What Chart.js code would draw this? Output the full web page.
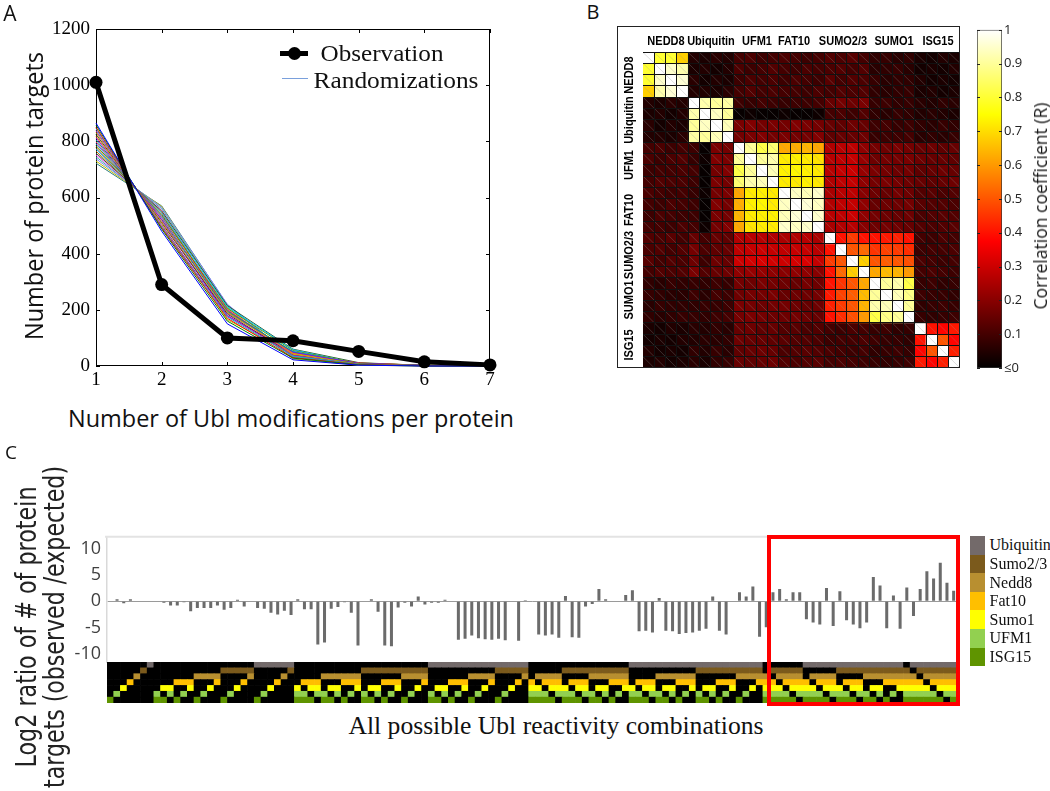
<!DOCTYPE html>
<html>
<head>
<meta charset="utf-8">
<script src="https://cdn.jsdelivr.net/npm/chart.js@4.4.1/dist/chart.umd.min.js"></script>
<style>
  html, body { margin: 0; padding: 0; background: #fff; }
  body { position: relative; width: 1050px; height: 791px; overflow: hidden; }
  canvas { position: absolute; }
  .txt { position: absolute; white-space: nowrap; line-height: 1; color: #111; }
  .abs { position: absolute; box-sizing: border-box; }
</style>
</head>
<body>
<canvas id="chartA" width="520" height="400" style="left:0px;top:0px"></canvas>
<canvas id="heat" width="317" height="316" style="left:643px;top:52px"></canvas>
<div class="abs" style="left:617px;top:26px;width:343px;height:342px;border:1px solid #222"></div>
<canvas id="cbar" width="90" height="360" style="left:960px;top:20px"></canvas>
<canvas id="chartC" width="970" height="183" style="left:0px;top:520px"></canvas>
<canvas id="strip" width="850" height="41" style="left:107px;top:662px"></canvas>
<div id="redBox" class="abs" style="border:4px solid #f00"></div>

<script>
// --- Panel A : distribution des modifications ---
const modCounts = ['1', '2', '3', '4', '5', '6', '7'];
const observed = [1010, 290, 100, 90, 52, 15, 4];
const randomRuns = [
  [865, 480, 150, 22, 3, 0, 0],
  [858, 488, 160, 28, 4, 0, 0],
  [850, 492, 170, 30, 5, 1, 0],
  [845, 495, 175, 35, 6, 1, 0],
  [838, 500, 180, 38, 5, 1, 0],
  [832, 505, 165, 42, 7, 1, 0],
  [825, 510, 185, 40, 8, 2, 0],
  [818, 515, 190, 45, 6, 1, 0],
  [812, 520, 178, 48, 9, 2, 0],
  [805, 522, 195, 50, 8, 2, 1],
  [798, 528, 200, 44, 10, 2, 0],
  [792, 532, 188, 52, 7, 1, 0],
  [785, 536, 205, 55, 9, 3, 0],
  [778, 540, 198, 46, 11, 2, 1],
  [772, 545, 210, 58, 8, 2, 0],
  [765, 548, 192, 50, 10, 3, 1],
  [758, 552, 215, 60, 12, 2, 0],
  [752, 555, 202, 40, 6, 1, 0],
  [745, 560, 212, 35, 5, 1, 0],
  [738, 565, 220, 30, 4, 1, 0],
  [730, 568, 208, 25, 3, 0, 0],
  [722, 570, 218, 32, 5, 1, 0]
];
const runColors = ['#0000ff', '#008000', '#ff0000', '#00bfbf', '#bf00bf', '#bfbf00', '#404040',
  '#ff8000', '#8000ff', '#00a080', '#e03070', '#2080ff', '#60a000', '#a05020', '#00c0ff',
  '#c06000', '#306030', '#ff40ff', '#40c0a0', '#8080ff', '#c0c000', '#2f7f7f'];

// --- Panel B : matrice de corrélation (x100) ---
const heatLabels = ['NEDD8', 'Ubiquitin', 'UFM1', 'FAT10', 'SUMO2/3', 'SUMO1', 'ISG15'];
const corr = [
  [100,80,80,68, 5,4,6,5, 10,11,9,10, 11,10,9,10, 12,11,13,10, 7,8,6,7, 4,3,5,4],
  [80,100,95,92, 4,5,3,5, 11,9,10,12, 10,9,11,10, 11,12,10,12, 6,7,8,6, 3,4,3,5],
  [80,95,100,96, 6,3,5,4, 9,11,10,11, 9,11,10,9, 13,10,12,11, 8,6,7,7, 5,3,4,3],
  [68,92,96,100, 5,5,4,6, 10,12,10,11, 10,10,9,11, 10,12,11,12, 7,6,7,8, 4,5,3,4],
  [5,4,6,5, 100,92,90,91, 9,8,10,9, 8,9,9,10, 15,17,16,18, 8,9,7,8, 6,5,7,6],
  [4,5,3,5, 92,100,94,90, 1,2,1,1, 2,1,1,2, 10,11,9,12, 7,6,8,7, 5,6,5,4],
  [6,3,5,4, 90,94,100,93, 18,19,17,18, 17,19,18,17, 15,14,16,15, 9,10,8,9, 7,6,8,7],
  [5,5,4,6, 91,90,93,100, 17,18,19,17, 18,17,17,19, 14,15,15,16, 8,9,9,10, 6,7,6,8],
  [10,11,9,10, 9,1,18,17, 100,90,82,86, 62,63,64,62, 26,27,28,21, 17,16,18,17, 15,16,14,15],
  [11,9,11,12, 8,2,19,18, 90,100,90,92, 72,73,72,71, 27,28,29,22, 16,17,17,18, 16,15,15,14],
  [9,10,10,11, 10,1,17,19, 82,90,100,93, 73,74,73,72, 27,29,30,22, 18,17,16,17, 14,15,16,15],
  [10,12,11,11, 9,1,18,17, 86,92,93,100, 72,72,73,72, 26,28,29,21, 17,18,17,16, 15,14,15,16],
  [11,10,9,10, 8,2,17,18, 62,72,73,72, 100,94,93,95, 25,27,28,20, 16,15,17,16, 12,13,11,12],
  [10,9,11,10, 9,1,19,17, 63,73,74,72, 94,100,96,94, 26,28,29,21, 15,16,16,17, 13,12,12,11],
  [9,11,10,9, 9,1,18,17, 64,72,73,73, 93,96,100,95, 27,28,30,21, 17,16,15,16, 11,12,13,12],
  [10,10,9,11, 10,2,17,19, 62,71,72,72, 95,94,95,100, 25,26,27,20, 16,17,16,15, 12,11,12,13],
  [12,11,13,10, 15,10,15,14, 26,27,27,26, 25,26,27,25, 100,40,46,40, 40,41,42,40, 10,9,11,10],
  [11,12,10,12, 17,11,14,15, 28,29,30,29, 28,29,29,27, 40,100,50,53, 45,47,46,44, 9,10,10,11],
  [13,10,12,11, 16,9,16,15, 30,31,32,31, 30,31,32,29, 46,50,100,68, 50,51,50,49, 11,10,9,10],
  [10,12,11,12, 18,12,15,16, 21,22,22,21, 20,21,21,20, 40,53,68,100, 62,65,64,60, 10,11,10,9],
  [7,6,8,7, 8,7,9,8, 17,16,18,17, 16,15,17,16, 40,45,50,62, 100,90,92,82, 8,9,7,8],
  [8,7,6,6, 9,6,10,9, 16,17,17,18, 15,16,16,17, 41,47,51,65, 90,100,93,88, 9,8,8,7],
  [6,8,7,7, 7,8,8,9, 18,17,16,17, 17,16,15,16, 42,46,50,64, 92,93,100,90, 7,8,9,8],
  [7,6,7,8, 8,7,9,10, 17,18,17,16, 16,17,16,15, 40,44,49,60, 82,88,90,100, 8,7,8,9],
  [4,3,5,4, 6,5,7,6, 15,16,14,15, 12,13,11,12, 10,9,11,10, 8,9,7,8, 100,40,38,41],
  [3,4,3,5, 5,6,6,7, 16,15,15,14, 13,12,12,11, 9,10,10,11, 9,8,8,7, 40,100,50,38],
  [5,3,4,3, 7,5,8,6, 14,15,16,15, 11,12,13,12, 11,10,9,10, 7,8,9,8, 38,50,100,42],
  [4,5,3,4, 6,4,7,8, 15,14,15,16, 12,11,12,13, 10,11,10,9, 8,7,8,9, 41,38,42,100]
];
// décalage horizontal des libellés du haut (px)
const heatLabelShift = [0, 0, 1, -7, -3, 3, 2];

// --- Panel C : combinaisons de Ubl ---
// ublNames de haut en bas ; dans combos, 1 = ISG15 ... 7 = Ubiquitin
const ublNames = ['Ubiquitin', 'Sumo2/3', 'Nedd8', 'Fat10', 'Sumo1', 'UFM1', 'ISG15'];
const ublColors = ['#736a6a', '#7b5a1c', '#b88f30', '#ffbf00', '#ffff00', '#92d050', '#5f9400'];
const combos = [
  '1', '2', '3', '4', '5', '6', '7',
  '12', '13', '23', '14', '24', '34', '15', '25', '35', '45', '16', '26', '36', '46', '56',
  '17', '27', '37', '47', '57', '67',
  '123', '124', '134', '234', '125', '135', '235', '145', '245', '345',
  '126', '136', '236', '146', '246', '346', '156', '256', '356', '456',
  '127', '137', '237', '147', '247', '347', '157', '257', '357', '457', '167', '267', '367', '467', '567',
  '1234', '1235', '1245', '1345', '2345',
  '1236', '1246', '1346', '2346', '1256', '1356', '2356', '1456', '2456', '3456',
  '1237', '1247', '1347', '2347', '1257', '1357', '2357', '1457', '2457', '3457',
  '1267', '1367', '2367', '1467', '2467', '3467', '1567', '2567', '3567', '4567',
  '12345', '12346', '12356', '12456', '13456', '23456',
  '12347', '12357', '12457', '13457', '23457', '12367', '12467', '13467', '23467',
  '12567', '13567', '23567', '14567', '24567', '34567',
  '123456', '123457', '123467', '123567', '124567', '134567', '234567',
  '1234567'
];
const log2Ratio = [
  -0.1, 0.4, -0.4, 0.4, -0.1, -0.1, -0.1, -0.1, -0.3, -0.8,
  -0.8, -0.2, -1.9, -1.3, -1.3, -1.3, -0.8, -1.6, -1.3, 0.3,
  -1.0, -0.1, -1.3, -1.4, -2.2, -2.5, -1.8, -2.6, 0.4, -1.5,
  -1.5, -8.2, -7.8, -1.4, -1.1, -0.2, -2.2, -8.4, -0.1, 0.4,
  -2.0, -8.4, -8.5, -1.2, -0.3, -1.0, 0.9, -0.6, -0.3, -0.3,
  0.3, -0.1, -7.3, -7.1, -6.5, -7.0, -7.2, -7.3, -7.1, -7.4,
  -0.1, -7.5, 0.2, -0.1, -6.3, -6.5, -6.3, -6.9, 1.0, -6.8,
  -6.9, -1.0, -0.5, 2.3, 0.4, 0.1, 0.1, 1.2, 2.1, -5.7,
  -5.6, -5.9, 0.6, -5.6, -5.7, -6.2, -6.0, -5.9, -5.6, -5.2,
  0.9, -5.6, -6.3, 0.1, 1.7, 0.9, 2.8, -6.7, -4.9, 1.7,
  2.3, 0.4, 1.7, 1.7, -3.4, -4.0, -4.4, 2.5, -4.7, 1.9,
  -3.6, -4.4, -5.1, -4.0, 4.6, 3.0, -5.1, 1.1, -5.2, 2.6,
  -2.8, 2.3, 5.7, 4.3, 7.3, 3.5, 2.0
];
const cTicks = [-10, -5, 0, 5, 10];

Chart.defaults.font.family = '"Open Sans", sans-serif';
Chart.defaults.animation = false;
Chart.defaults.plugins.legend.display = false;
Chart.defaults.plugins.tooltip.enabled = false;

// --- Texte HTML ---
const mctx = document.createElement('canvas').getContext('2d');
function addText(txt, cx, cy, font, fitW, rot, color) {
  const el = document.createElement('div');
  el.className = 'txt';
  el.textContent = txt;
  el.style.font = font;
  if (color) el.style.color = color;
  mctx.font = font;
  const sx = fitW ? fitW / mctx.measureText(txt).width : 1;
  el.style.left = cx + 'px';
  el.style.top = cy + 'px';
  el.style.transform = `translate(-50%,-50%) rotate(${rot || 0}deg) scaleX(${sx})`;
  document.body.appendChild(el);
  return el;
}
function addBox(left, top, w, h, css) {
  const el = document.createElement('div');
  el.className = 'abs';
  Object.assign(el.style, { left: left + 'px', top: top + 'px', width: w + 'px', height: h + 'px' }, css);
  document.body.appendChild(el);
}

// --- Panel A ---
const matlabBox = {
  id: 'matlabBox',
  beforeDatasetsDraw(chart) {
    const { ctx, chartArea: a, scales: { x, y } } = chart;
    const t = 4;
    ctx.save();
    ctx.strokeStyle = '#000';
    ctx.lineWidth = 1;
    ctx.strokeRect(a.left + 0.5, a.top + 0.5, a.width - 1, a.height - 1);
    ctx.beginPath();
    x.ticks.forEach((_, i) => {
      const px = Math.round(x.getPixelForTick(i)) + 0.5;
      ctx.moveTo(px, a.bottom); ctx.lineTo(px, a.bottom - t);
      ctx.moveTo(px, a.top); ctx.lineTo(px, a.top + t);
    });
    y.ticks.forEach((_, i) => {
      const py = Math.round(y.getPixelForTick(i)) + 0.5;
      ctx.moveTo(a.left, py); ctx.lineTo(a.left + t, py);
      ctx.moveTo(a.right, py); ctx.lineTo(a.right - t, py);
    });
    ctx.stroke();
    ctx.restore();
  }
};

const serif19 = { family: '"Liberation Serif", serif', size: 19 };
new Chart(document.getElementById('chartA'), {
  type: 'line',
  data: {
    labels: modCounts,
    datasets: [
      { data: observed, borderColor: '#000', backgroundColor: '#000', borderWidth: 5,
        pointRadius: 6.5, pointBackgroundColor: '#000', pointBorderWidth: 0, clip: false },
      ...randomRuns.map((run, i) => ({
        data: run, borderColor: runColors[i], borderWidth: 1, pointRadius: 0, clip: false
      }))
    ]
  },
  options: {
    responsive: false,
    layout: { padding: { top: 29, right: 30, left: 0, bottom: 0 } },
    scales: {
      x: {
        grid: { display: false, drawTicks: false }, border: { display: false },
        ticks: { font: serif19, color: '#000', padding: 3, maxRotation: 0 },
        afterFit: (s) => { s.height = 34; }
      },
      y: {
        min: 0, max: 1200,
        grid: { display: false, drawTicks: false }, border: { display: false },
        ticks: { stepSize: 200, font: serif19, color: '#000', padding: 6, callback: (v) => String(v) },
        afterFit: (s) => { s.width = 96; }
      }
    }
  },
  plugins: [matlabBox]
});

addText('A', 10, 13, '21px "Open Sans"');
addText('Number of protein targets', 33, 196, '26px "Open Sans"', 288, -90);
addText('Number of Ubl modifications per protein', 291, 417, '24px "Open Sans"', 446);
addBox(280, 50.5, 28, 5, { background: '#000' });
addBox(287.5, 46.5, 13, 13, { background: '#000', borderRadius: '50%' });
addText('Observation', 381.5, 53, '24px "Liberation Serif"', 123);
addBox(282, 77.5, 26, 1.5, { background: '#7aa0dc' });
addText('Randomizations', 395.5, 80, '24px "Liberation Serif"', 165);

// --- Panel B ---
function hot(v) {
  const t = Math.max(0, Math.min(1, v / 100));
  const r = Math.min(1, t / 0.375);
  const g = Math.min(1, Math.max(0, (t - 0.375) / 0.375));
  const b = Math.max(0, (t - 0.75) / 0.25);
  return `rgb(${Math.round(r * 255)},${Math.round(g * 255)},${Math.round(b * 255)})`;
}

const hatch = {
  id: 'hatch',
  afterDatasetsDraw(chart) {
    const ctx = chart.ctx;
    ctx.save();
    ctx.strokeStyle = 'rgba(150,150,150,0.3)';
    ctx.lineWidth = 1;
    ctx.beginPath();
    chart.data.datasets.forEach((ds, i) => {
      chart.getDatasetMeta(i).data.forEach((el) => {
        const { x, y, base, width } = el.getProps(['x', 'y', 'base', 'width'], true);
        ctx.moveTo(x - width / 2, Math.min(y, base));
        ctx.lineTo(x + width / 2, Math.max(y, base));
      });
    });
    ctx.stroke();
    ctx.restore();
  }
};

new Chart(document.getElementById('heat'), {
  type: 'bar',
  data: {
    labels: corr[0].map((_, j) => String(j)),
    datasets: corr.map((row) => ({
      data: row.map(() => 1),
      backgroundColor: row.map(hot),
      borderWidth: 0, barPercentage: 1, categoryPercentage: 1
    }))
  },
  options: {
    responsive: false,
    layout: { padding: 0 },
    scales: {
      x: { stacked: true, ticks: { display: false }, border: { display: false },
        grid: { color: '#111', lineWidth: 1, z: 1, drawTicks: false, offset: true } },
      y: { stacked: true, reverse: true, min: 0, max: corr.length,
        ticks: { display: false, stepSize: 1 }, border: { display: false },
        grid: { color: '#111', lineWidth: 1, z: 1, drawTicks: false } }
    }
  },
  plugins: [hatch]
});

const cell = 316 / corr.length;
heatLabels.forEach((name, b) => {
  const c = (4 * b + 2) * cell;
  addText(name, 643 + c + heatLabelShift[b], 41, 'bold 12.5px "Liberation Sans"', null, 0, '#000')
    .style.transform += ' scaleX(0.88)';
  addText(name, 629, 52 + c, 'bold 12.5px "Liberation Sans"', null, -90, '#000')
    .style.transform += ' scaleX(0.88)';
});
addText('B', 593, 11, '20px "Open Sans"');

// barre de couleur
const hotStops = [[0, '#000'], [0.375, '#f00'], [0.75, '#ff0'], [1, '#fff']];
const cbTicks = {
  id: 'cbTicks',
  afterDatasetsDraw(chart) {
    const { ctx, chartArea: a, scales: { y } } = chart;
    ctx.save();
    ctx.strokeStyle = '#222';
    ctx.beginPath();
    y.ticks.forEach((_, i) => {
      const py = Math.round(y.getPixelForTick(i)) + 0.5;
      ctx.moveTo(a.left, py); ctx.lineTo(a.left + 3, py);
      ctx.moveTo(a.right, py); ctx.lineTo(a.right - 3, py);
    });
    ctx.stroke();
    ctx.restore();
  }
};
new Chart(document.getElementById('cbar'), {
  type: 'bar',
  data: {
    labels: [''],
    datasets: [{
      data: [1],
      backgroundColor: (ctx) => {
        const a = ctx.chart.chartArea;
        if (!a) return '#000';
        const g = ctx.chart.ctx.createLinearGradient(0, a.bottom, 0, a.top);
        hotStops.forEach(([t, c]) => g.addColorStop(t, c));
        return g;
      },
      borderColor: '#333', borderWidth: 1, borderSkipped: false,
      barPercentage: 1, categoryPercentage: 1
    }]
  },
  options: {
    responsive: false,
    layout: { padding: { left: 17, top: 6, bottom: 12, right: 0 } },
    scales: {
      x: { display: false },
      y: {
        position: 'right', min: 0, max: 1,
        grid: { display: false, drawTicks: false }, border: { display: false },
        ticks: {
          stepSize: 0.1, padding: 2, color: '#222', font: { size: 13 },
          callback: (v) => (v === 0 ? '\u22640' : v === 1 ? '1' : v.toFixed(1))
        },
        afterFit: (s) => { s.width = 48; }
      }
    }
  },
  plugins: [cbTicks]
});
addText('Correlation coefficient (R)', 1040, 206, '18px "Open Sans"', 207, -90, '#1a1a1a');

// --- Panel C ---
const topLine = {
  id: 'topLine',
  beforeDatasetsDraw(chart) {
    const { ctx, chartArea: a } = chart;
    ctx.save();
    ctx.strokeStyle = '#e3e3e3';
    ctx.lineWidth = 2;
    ctx.beginPath();
    ctx.moveTo(a.left - 2, a.top); ctx.lineTo(a.right, a.top);
    ctx.stroke();
    ctx.restore();
  }
};
const redBox = {
  id: 'redBox',
  afterDraw(chart) {
    const xs = chart.scales.x;
    const w = xs.getPixelForValue(1) - xs.getPixelForValue(0);
    const first = combos.findIndex((c) => c.length === 5);
    const left = xs.getPixelForValue(first) - w / 2 + 4;
    const right = xs.getPixelForValue(combos.length - 1) + w / 2 + 3;
    const top = 520 + chart.chartArea.top - 1.5;
    const bottom = 520 + chart.chartArea.bottom + 41 + 3;
    Object.assign(document.getElementById('redBox').style, {
      left: left + 'px', top: top + 'px', width: (right - left) + 'px', height: (bottom - top) + 'px'
    });
  }
};

new Chart(document.getElementById('chartC'), {
  type: 'bar',
  data: {
    labels: combos,
    datasets: [{ data: log2Ratio, backgroundColor: '#6b6b6b', barPercentage: 0.45, categoryPercentage: 1 }]
  },
  options: {
    responsive: false,
    layout: { padding: { top: 14, right: 13, bottom: 41, left: 0 } },
    scales: {
      x: { display: false },
      y: {
        min: -11.5, max: 12.2,
        afterBuildTicks: (s) => { s.ticks = cTicks.map((v) => ({ value: v })); },
        ticks: { font: { size: 18 }, color: '#404040', padding: 6 },
        grid: { drawTicks: false, lineWidth: 1,
          color: (c) => (c.tick && c.tick.value === 0 ? '#9a9a9a' : 'rgba(0,0,0,0)') },
        border: { color: '#d9d9d9', width: 1.5 },
        afterFit: (s) => { s.width = 107; }
      }
    }
  },
  plugins: [topLine, redBox]
});

// bande des combinaisons : une ligne par Ubl, du bas (ISG15) vers le haut
const stripSets = ublNames.map((name, i) => {
  const code = String(ublNames.length - i);
  return {
    label: name,
    data: combos.map(() => 1),
    backgroundColor: combos.map((c) => (c.includes(code) ? ublColors[i] : '#000')),
    borderWidth: 0, barPercentage: 1, categoryPercentage: 1
  };
}).reverse();

new Chart(document.getElementById('strip'), {
  type: 'bar',
  data: { labels: combos, datasets: stripSets },
  options: {
    responsive: false,
    layout: { padding: 0 },
    scales: {
      x: { display: false, stacked: true },
      y: { display: false, stacked: true, min: 0, max: ublNames.length }
    }
  }
});

// légende C
ublNames.forEach((name, i) => {
  addBox(969.5, 536 + 18.6 * i, 15.5, 18.6, { background: ublColors[i] });
  const el = addText(name, 989.5, 536 + 18.6 * i + 9.3, '16px "Liberation Serif"', null, 0, '#111');
  el.style.transform = 'translate(0,-50%)';
});

addText('C', 11, 452, '19px "Open Sans"');
addText('Log2 ratio of # of protein', 26, 627, '28px "DejaVu Sans"', 281, -90, '#222');
addText('targets (observed /expected)', 54, 627, '28px "DejaVu Sans"', 322, -90, '#222');
addText('All possible Ubl reactivity combinations', 556, 726, '25px "Liberation Serif"', 415, 0, '#111');
</script>
</body>
</html>
